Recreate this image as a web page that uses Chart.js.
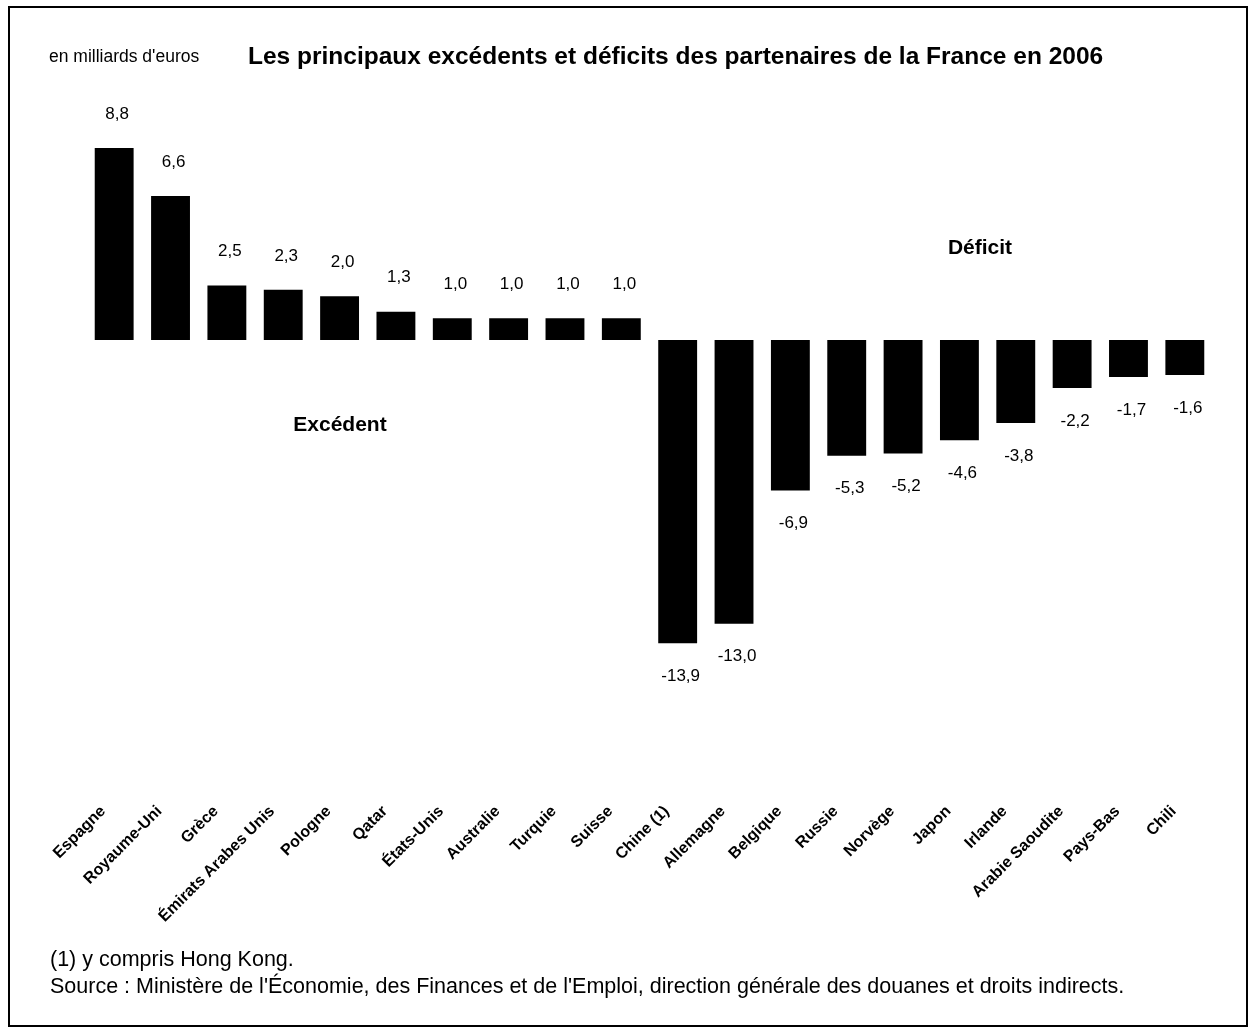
<!DOCTYPE html>
<html lang="fr">
<head>
<meta charset="utf-8">
<title>Excédents et déficits 2006</title>
<script src="https://cdn.jsdelivr.net/npm/chart.js@4.4.1/dist/chart.umd.min.js"></script>
<style>
    body { margin: 0; background: #fff; }
    #wrap { width: 1250px; height: 1028px; }
</style>
</head>
<body>
<div id="wrap"><canvas id="soldeChart" width="1250" height="1028"></canvas></div>
<script>
// Data (billions of euros)
const pays = ['Espagne', 'Royaume-Uni', 'Grèce', 'Émirats Arabes Unis', 'Pologne', 'Qatar', 'États-Unis',
    'Australie', 'Turquie', 'Suisse', 'Chine (1)', 'Allemagne', 'Belgique', 'Russie', 'Norvège', 'Japon',
    'Irlande', 'Arabie Saoudite', 'Pays-Bas', 'Chili'];
const soldes = [8.8, 6.6, 2.5, 2.3, 2.0, 1.3, 1.0, 1.0, 1.0, 1.0,
    -13.9, -13.0, -6.9, -5.3, -5.2, -4.6, -3.8, -2.2, -1.7, -1.6];

const FONT = "'Liberation Sans', Arial, sans-serif";

// value labels above / below each bar
const valueLabels = {
    id: 'valueLabels',
    afterDatasetsDraw(chart) {
        const ctx = chart.ctx;
        const meta = chart.getDatasetMeta(0);
        ctx.save();
        ctx.font = '17px ' + FONT;
        ctx.fillStyle = '#000';
        ctx.textAlign = 'center';
        ctx.textBaseline = 'middle';
        meta.data.forEach((bar, i) => {
            const v = soldes[i];
            const txt = v.toFixed(1).replace('.', ',');
            const y = v >= 0 ? bar.y - 34 : bar.y + 33;
            ctx.fillText(txt, bar.x + 3, y);
        });
        ctx.restore();
    }
};

// titles, notes and frame
const decor = {
    id: 'decor',
    afterDraw(chart) {
        const ctx = chart.ctx;
        ctx.save();
        ctx.fillStyle = '#000';
        ctx.textBaseline = 'middle';
        ctx.textAlign = 'left';

        ctx.font = '17.5px ' + FONT;
        ctx.fillText("en milliards d'euros", 49, 57);

        ctx.font = 'bold 24.5px ' + FONT;
        ctx.fillText('Les principaux excédents et déficits des partenaires de la France en 2006', 248, 57);

        ctx.font = 'bold 21px ' + FONT;
        ctx.textAlign = 'center';
        ctx.fillText('Excédent', 340, 425);
        ctx.fillText('Déficit', 980, 248);

        // footnotes
        ctx.textAlign = 'left';
        ctx.font = '21.5px ' + FONT;
        ctx.fillText('(1) y compris Hong Kong.', 50, 960);
        ctx.fillText("Source : Ministère de l'Économie, des Finances et de l'Emploi, direction générale des douanes et droits indirects.", 50, 987);

        // frame
        ctx.strokeStyle = '#000';
        ctx.lineWidth = 2;
        ctx.strokeRect(9, 7, 1238, 1019);
        ctx.restore();
    }
};

document.addEventListener('DOMContentLoaded', function () {
    const ctx = document.getElementById('soldeChart').getContext('2d');
    new Chart(ctx, {
        type: 'bar',
        data: {
            labels: pays,
            datasets: [{
                data: soldes,
                backgroundColor: '#000',
                borderWidth: 0,
                barPercentage: 0.69,
                categoryPercentage: 1.0
            }]
        },
        options: {
            responsive: false,
            animation: false,
            layout: { padding: { left: 86, right: 37, top: 100, bottom: 0 } },
            plugins: {
                legend: { display: false },
                tooltip: { enabled: false }
            },
            scales: {
                y: {
                    display: false,
                    min: -20.9,
                    max: 11
                },
                x: {
                    grid: { display: false, drawTicks: false },
                    border: { display: false },
                    afterFit(scale) { scale.height = 232; },
                    ticks: {
                        autoSkip: false,
                        maxRotation: 45,
                        minRotation: 45,
                        padding: 6,
                        labelOffset: -11,
                        color: '#000',
                        font: { family: FONT, size: 16, weight: 'bold' }
                    }
                }
            }
        },
        plugins: [valueLabels, decor]
    });
});
</script>
</body>
</html>
